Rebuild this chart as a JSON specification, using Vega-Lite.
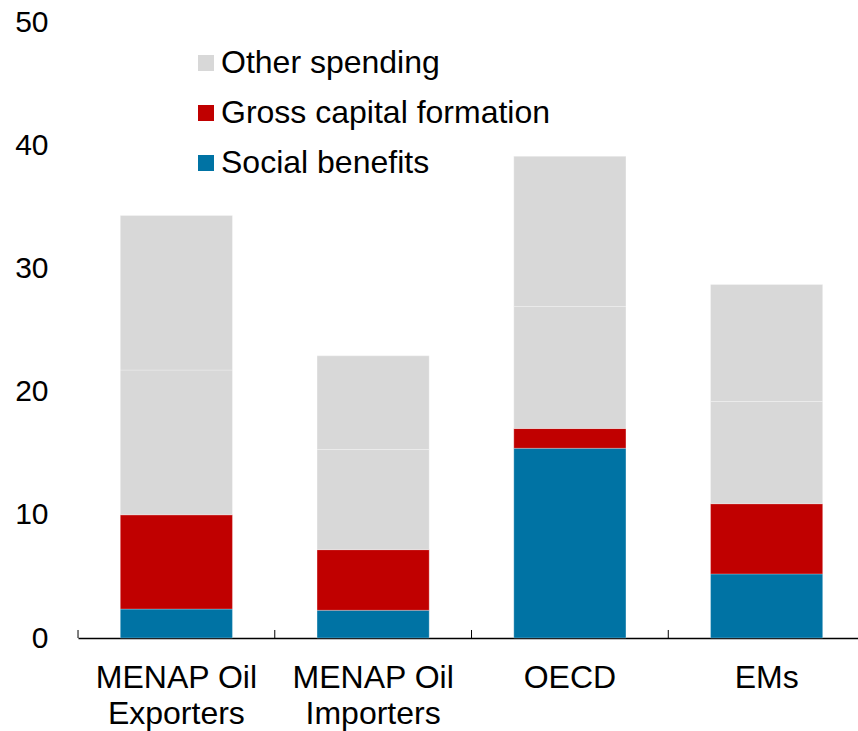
{
  "$schema": "https://vega.github.io/schema/vega-lite/v6.json",
  "width": 787,
  "height": 616,
  "autosize": {"type": "none"},
  "padding": {"left": 78, "top": 22, "right": 0, "bottom": 93},
  "background": "white",
  "config": {
    "view": {"stroke": null},
    "font": "Liberation Sans",
    "axis": {"labelFont": "Liberation Sans", "labelColor": "black", "grid": false}
  },
  "data": {
    "values": [
      {"group": "MENAP Oil Exporters", "component": "Social benefits", "rank": 1, "value": 2.35},
      {"group": "MENAP Oil Exporters", "component": "Gross capital formation", "rank": 2, "value": 7.65},
      {"group": "MENAP Oil Exporters", "component": "Other spending", "rank": 3, "value": 11.75},
      {"group": "MENAP Oil Exporters", "component": "Other spending (upper)", "rank": 4, "value": 12.55},
      {"group": "MENAP Oil Importers", "component": "Social benefits", "rank": 1, "value": 2.25},
      {"group": "MENAP Oil Importers", "component": "Gross capital formation", "rank": 2, "value": 4.92},
      {"group": "MENAP Oil Importers", "component": "Other spending", "rank": 3, "value": 8.13},
      {"group": "MENAP Oil Importers", "component": "Other spending (upper)", "rank": 4, "value": 7.6},
      {"group": "OECD", "component": "Social benefits", "rank": 1, "value": 15.4},
      {"group": "OECD", "component": "Gross capital formation", "rank": 2, "value": 1.6},
      {"group": "OECD", "component": "Other spending", "rank": 3, "value": 9.9},
      {"group": "OECD", "component": "Other spending (upper)", "rank": 4, "value": 12.2},
      {"group": "EMs", "component": "Social benefits", "rank": 1, "value": 5.2},
      {"group": "EMs", "component": "Gross capital formation", "rank": 2, "value": 5.7},
      {"group": "EMs", "component": "Other spending", "rank": 3, "value": 8.3},
      {"group": "EMs", "component": "Other spending (upper)", "rank": 4, "value": 9.5}
    ]
  },
  "encoding": {
    "x": {
      "field": "group",
      "type": "nominal",
      "sort": ["MENAP Oil Exporters", "MENAP Oil Importers", "OECD", "EMs"],
      "scale": {"paddingInner": 0.43, "paddingOuter": 0.215},
      "axis": {
        "title": null,
        "labelAngle": 0,
        "labelFontSize": 32,
        "labelLineHeight": 36,
        "labelBaseline": "top",
        "labelPadding": 24,
        "labelExpr": "indexof(datum.label, 'MENAP') == 0 ? ['MENAP Oil', replace(datum.label, 'MENAP Oil ', '')] : datum.label",
        "domain": true,
        "domainColor": "black",
        "domainWidth": 1.5,
        "ticks": false
      }
    }
  },
  "layer": [
    {
      "mark": {"type": "bar", "stroke": "white", "strokeWidth": 0.6, "strokeOpacity": 0.45},
      "encoding": {
        "y": {
          "field": "value",
          "type": "quantitative",
          "aggregate": "sum",
          "stack": "zero",
          "scale": {"domain": [0, 50], "nice": false},
          "axis": {
            "title": null,
            "values": [0, 10, 20, 30, 40, 50],
            "labelFontSize": 30,
            "labelPadding": 30,
            "domain": false,
            "ticks": false,
            "grid": false
          }
        },
        "order": {"field": "rank", "type": "quantitative"},
        "color": {
          "field": "component",
          "type": "nominal",
          "scale": {
            "domain": ["Social benefits", "Gross capital formation", "Other spending", "Other spending (upper)"],
            "range": ["#0073a4", "#c00000", "#d8d8d8", "#d8d8d8"]
          },
          "legend": {
            "title": null,
            "values": ["Other spending", "Gross capital formation", "Social benefits"],
            "orient": "none",
            "legendX": 112,
            "legendY": 25,
            "padding": 0,
            "symbolType": "square",
            "symbolSize": 256,
            "symbolStrokeWidth": 0,
            "labelFontSize": 32,
            "labelFont": "Liberation Sans",
            "labelColor": "black",
            "labelLimit": 0,
            "labelOffset": -1,
            "rowPadding": 18
          }
        }
      }
    },
    {
      "transform": [{"filter": "datum.rank == 1"}],
      "mark": {"type": "rule", "color": "black", "strokeWidth": 1},
      "encoding": {
        "x": {"field": "group", "type": "nominal", "bandPosition": -0.377},
        "y": {"datum": 0},
        "y2": {"datum": 0.65}
      }
    }
  ]
}
